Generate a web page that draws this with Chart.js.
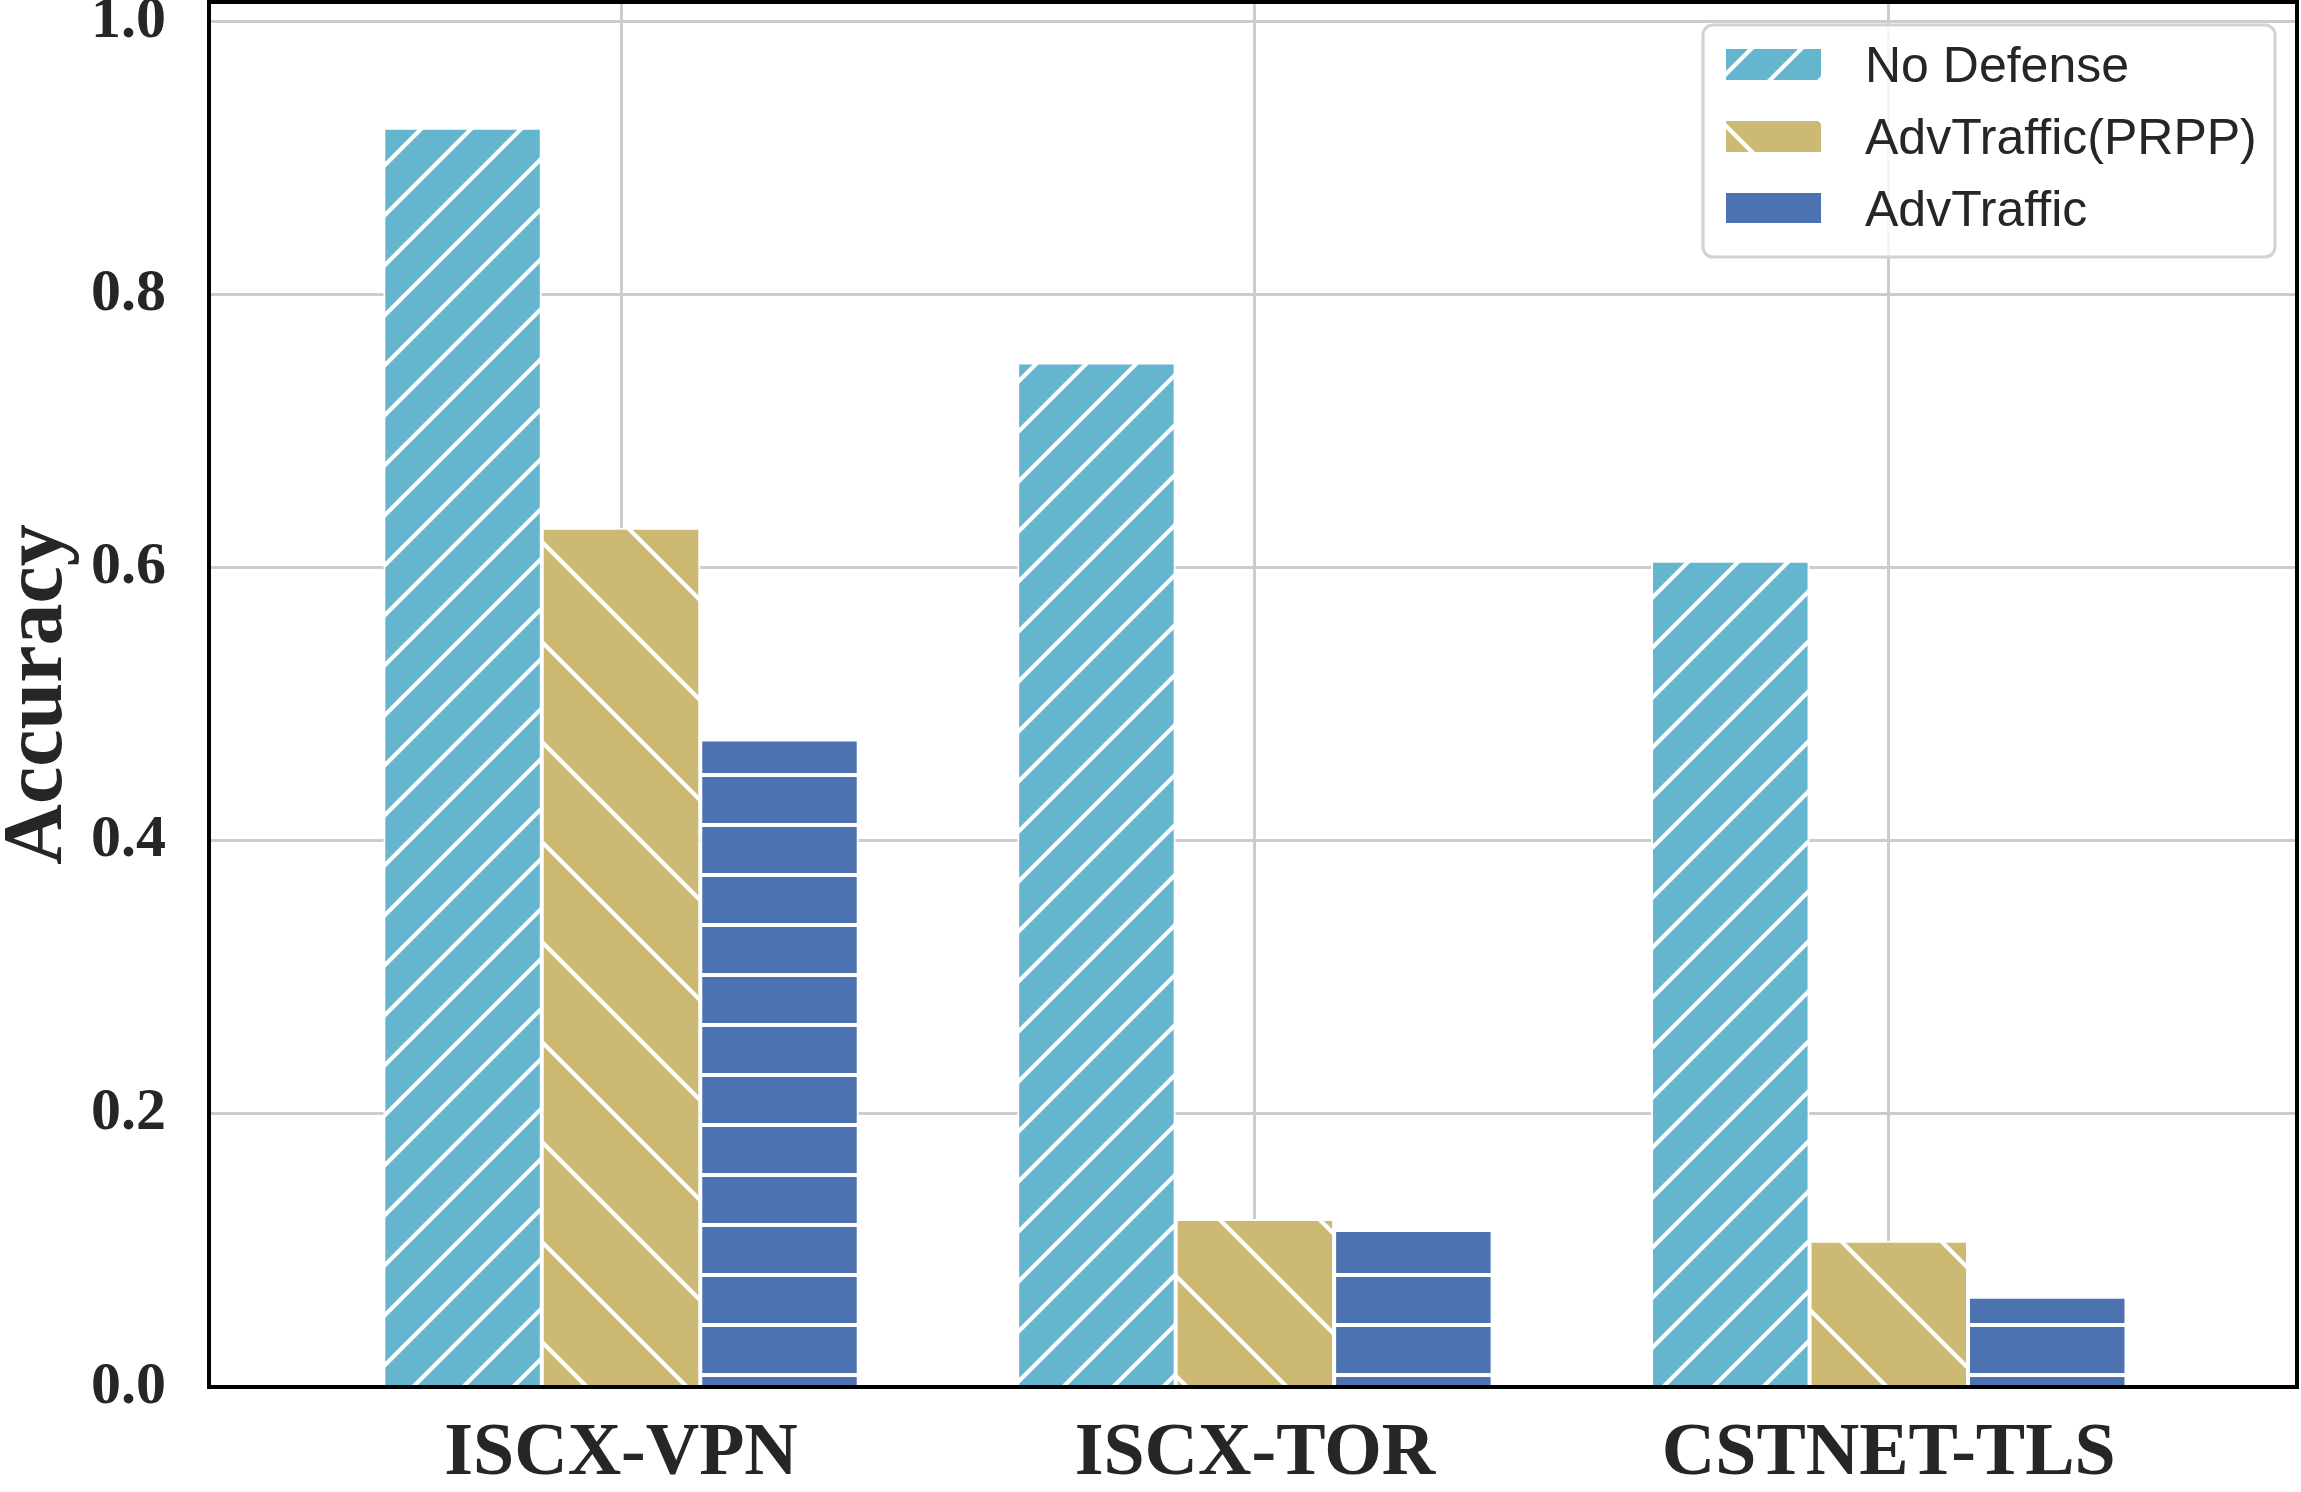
<!DOCTYPE html>
<html><head><meta charset="utf-8">
<script src="https://cdn.jsdelivr.net/npm/chart.js@4.4.1/dist/chart.umd.min.js"></script>
<style>html,body{margin:0;padding:0;background:#fff;overflow:hidden}canvas{display:block}</style>
</head><body>
<canvas id="c" width="2301" height="1492" style="width:2301px;height:1492px"></canvas>
<script>
const categories = ['ISCX-VPN', 'ISCX-TOR', 'CSTNET-TLS'];
const seriesNames = ['No Defense', 'AdvTraffic(PRPP)', 'AdvTraffic'];
const noDefense = [0.922, 0.750, 0.605];
const advTrafficPRPP = [0.629, 0.123, 0.107];
const advTraffic = [0.474, 0.115, 0.066];
const yTicks = [0.0, 0.2, 0.4, 0.6, 0.8, 1.0];
const yTickLabels = ['0.0', '0.2', '0.4', '0.6', '0.8', '1.0'];

const canvas = document.getElementById('c');
const ctx0 = canvas.getContext('2d');

function hatch(kind, color) {
  const c = document.createElement('canvas');
  const s = kind === 'back' ? 100 : 50;
  c.width = s; c.height = s;
  const g = c.getContext('2d');
  g.fillStyle = color; g.fillRect(0, 0, s, s);
  g.strokeStyle = '#ffffff'; g.lineWidth = 4.2;
  g.beginPath();
  if (kind === 'fwd') {
    for (const k of [0, 50, 100]) { g.moveTo(k + 30, -30); g.lineTo(k - 80, 80); }
  } else if (kind === 'back') {
    for (const k of [-100, 0, 100]) { g.moveTo(-30, -30 + k); g.lineTo(130, 130 + k); }
  } else {
    g.moveTo(-5, 25); g.lineTo(s + 5, 25);
  }
  g.stroke();
  return ctx0.createPattern(c, 'repeat');
}

const fills = [hatch('fwd', '#64B5CD'), hatch('back', '#CCB974'), hatch('horiz', '#4C72B0')];
const seriesValues = [noDefense, advTrafficPRPP, advTraffic];

const serif = 'Liberation Serif, Times New Roman, serif';
const sans = 'Liberation Sans, Arial, sans-serif';

const decorPlugin = {
  id: 'decor',
  afterDatasetsDraw(chart) {
    const {ctx, chartArea: a} = chart;
    ctx.save();
    ctx.strokeStyle = '#000000';
    ctx.lineWidth = 4;
    ctx.strokeRect(a.left, a.top, a.right - a.left, a.bottom - a.top);
    ctx.restore();
  },
  afterDraw(chart) {
    const ctx = chart.ctx;
    const bx = 1703, by = 25, bw = 572, bh = 232, r = 10;
    ctx.save();
    ctx.beginPath();
    ctx.roundRect(bx, by, bw, bh, r);
    ctx.fillStyle = 'rgba(255,255,255,0.8)';
    ctx.fill();
    ctx.lineWidth = 3;
    ctx.strokeStyle = '#d2d2d2';
    ctx.stroke();
    const rows = [64.5, 136.5, 208.5];
    chart.data.datasets.forEach((ds, i) => {
      const cy = rows[i];
      ctx.fillStyle = ds.backgroundColor;
      ctx.fillRect(1726, cy - 15.5, 95, 31);
      ctx.fillStyle = '#262626';
      ctx.font = '50px ' + sans;
      ctx.textBaseline = 'middle';
      ctx.textAlign = 'left';
      ctx.fillText(ds.label, 1865, cy + 4);
    });
    ctx.restore();
  }
};

new Chart(canvas, {
  type: 'bar',
  data: {
    datasets: seriesNames.map((name, i) => ({
      label: name,
      data: seriesValues[i].map((v, j) => ({x: j, y: v})),
      backgroundColor: fills[i],
      borderColor: '#ffffff',
      borderWidth: 2,
      categoryPercentage: 0.75,
      barPercentage: 1.0
    }))
  },
  options: {
    responsive: false,
    animation: false,
    devicePixelRatio: 1,
    layout: {padding: {top: 2, right: 4, left: 0, bottom: 0}},
    plugins: {legend: {display: false}, tooltip: {enabled: false}},
    scales: {
      x: {
        type: 'linear', min: -0.65, max: 2.644, offset: false,
        afterBuildTicks: s => { s.ticks = categories.map((_, i) => ({value: i})); },
        afterFit: s => { s.height = 105; s.paddingLeft = 0; s.paddingRight = 0; },
        ticks: {
          callback: v => categories[v] ?? '',
          font: {family: serif, weight: 'bold', size: 74},
          color: '#262626', padding: 23, maxRotation: 0, autoSkip: false
        },
        grid: {color: '#cccccc', lineWidth: 3, drawTicks: false, offset: false},
        border: {display: false}
      },
      y: {
        min: 0, max: 1.014,
        afterBuildTicks: s => { s.ticks = yTicks.map(v => ({value: v})); },
        afterFit: s => { s.width = 209; s.paddingTop = 0; s.paddingBottom = 0; },
        ticks: {
          callback: (v, i) => yTickLabels[i],
          font: {family: serif, weight: 'bold', size: 60},
          color: '#262626', padding: 43
        },
        grid: {color: '#cccccc', lineWidth: 3, drawTicks: false},
        border: {display: false},
        title: {
          display: true, text: 'Accuracy', color: '#262626',
          font: {family: serif, weight: 'bold', size: 84, lineHeight: 0.85},
          padding: {top: 4, bottom: 0}
        }
      }
    }
  },
  plugins: [decorPlugin]
});
</script>
</body></html>
